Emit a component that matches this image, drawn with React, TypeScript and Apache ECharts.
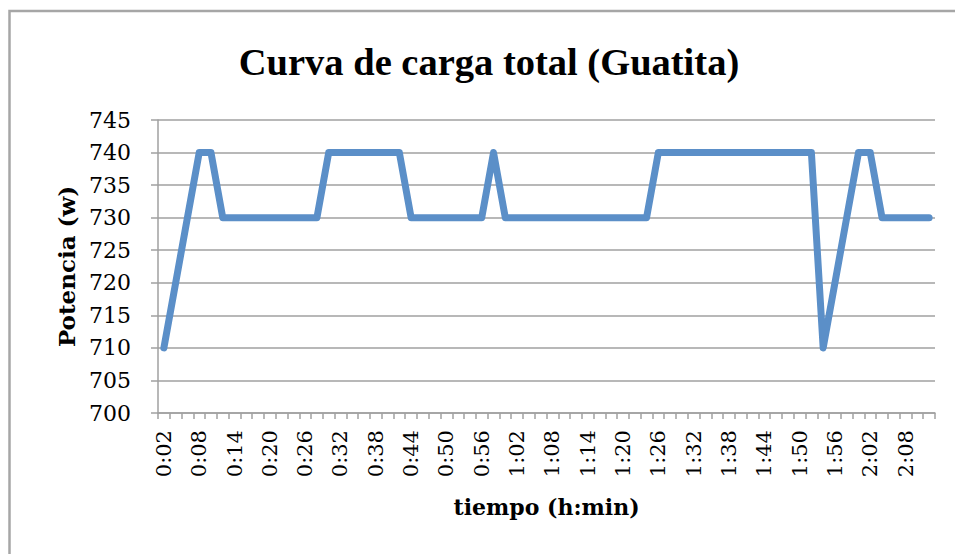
import React, { useEffect, useRef } from "react";
import * as echarts from "echarts";

const categories: string[] = [];
for (let m = 2; m <= 132; m += 2) {
  const h = Math.floor(m / 60);
  const mm = m % 60;
  categories.push(`${h}:${mm < 10 ? "0" + mm : mm}`);
}

const potencia: number[] = [
  710, 720, 730, 740, 740,
  730, 730, 730, 730, 730, 730, 730, 730, 730,
  740, 740, 740, 740, 740, 740, 740,
  730, 730, 730, 730, 730, 730, 730,
  740,
  730, 730, 730, 730, 730, 730, 730, 730, 730, 730, 730, 730, 730,
  740, 740, 740, 740, 740, 740, 740, 740, 740, 740, 740, 740, 740, 740,
  710, 720, 730, 740, 740,
  730, 730, 730, 730, 730,
];

const titleText = "Curva de carga total (Guatita)";
const yName = "Potencia (w)";
const xName = "tiempo (h:min)";
const yMin = 700;
const yMax = 745;
const yInterval = 5;

const GRAY = "#a0a0a0";
const TICK_FONT = "DejaVu Serif";
const BOLD_FONT = "DejaVu Serif";
const TITLE_FONT = "Liberation Serif";

export default function App() {
  const ref = useRef<HTMLDivElement>(null);
  useEffect(() => {
    if (!ref.current) return;
    const chart = echarts.init(ref.current, undefined, { renderer: "svg" });
    chart.setOption({
      animation: false,
      backgroundColor: "#ffffff",
      grid: { left: 158, top: 120, width: 777, height: 293, containLabel: false },
      graphic: [
        {
          type: "rect",
          shape: { x: 9.5, y: 11, width: 980, height: 600 },
          style: { fill: "none", stroke: "#a6a6a6", lineWidth: 2.5 },
          z: 0,
        },
        {
          type: "text",
          x: 489,
          y: 62,
          style: {
            text: titleText,
            font: `bold 38.5px "${TITLE_FONT}"`,
            fill: "#000000",
            textAlign: "center",
            textVerticalAlign: "middle",
          },
        },
      ],
      xAxis: {
        type: "category",
        data: categories,
        boundaryGap: true,
        name: xName,
        nameLocation: "middle",
        nameGap: 83,
        nameTextStyle: { fontFamily: BOLD_FONT, fontWeight: "bold", fontSize: 22, color: "#000" },
        axisLine: { show: true, lineStyle: { color: GRAY, width: 1.5 } },
        axisTick: { show: true, interval: 0, length: 6, lineStyle: { color: GRAY, width: 1.5 } },
        axisLabel: {
          interval: 2,
          rotate: 90,
          margin: 17,
          fontFamily: TICK_FONT,
          fontSize: 21,
          color: "#000",
        },
        splitLine: { show: false },
      },
      yAxis: {
        type: "value",
        min: yMin,
        max: yMax,
        interval: yInterval,
        name: yName,
        nameLocation: "middle",
        nameGap: 80,
        nameRotate: 90,
        nameTextStyle: { fontFamily: BOLD_FONT, fontWeight: "bold", fontSize: 23, color: "#000" },
        axisLine: { show: true, lineStyle: { color: GRAY, width: 1.5 } },
        axisTick: { show: true, length: 7, lineStyle: { color: GRAY, width: 1.5 } },
        axisLabel: { margin: 27, fontFamily: TICK_FONT, fontSize: 22, color: "#000" },
        splitLine: { show: true, lineStyle: { color: GRAY, width: 1.5 } },
      },
      series: [
        {
          type: "line",
          data: potencia,
          showSymbol: false,
          symbol: "none",
          lineStyle: { color: "#5b8fc8", width: 7, cap: "round", join: "round" },
          itemStyle: { color: "#5b8fc8" },
        },
      ],
    });
    return () => chart.dispose();
  }, []);
  return (
    <div
      ref={ref}
      style={{ position: "fixed", left: 0, top: 0, width: 955, height: 554 }}
    />
  );
}
